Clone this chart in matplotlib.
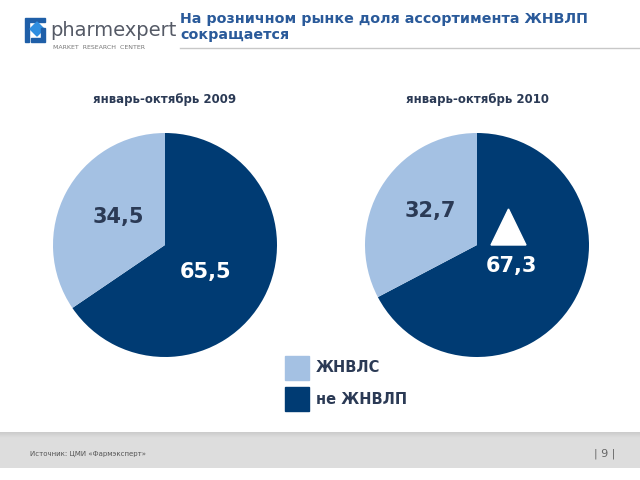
import numpy as np
import matplotlib.pyplot as plt
from matplotlib.patches import Rectangle, Polygon

# data
periods = ["январь-октябрь 2009", "январь-октябрь 2010"]
zhnvls = [34.5, 32.7]
ne_zhnvlp = [65.5, 67.3]
legend_labels = ["ЖНВЛС", "не ЖНВЛП"]

dark = "#003b73"
light = "#a4c1e3"
title_col = "#2a5a9a"
text_col = "#2b3a55"

plt.rcParams['font.family'] = ['DejaVu Sans']

fig = plt.figure(figsize=(6.4, 4.8), dpi=100)

# background axes in pixel coordinates
bg = fig.add_axes([0, 0, 1, 1])
bg.axis("off")

# footer band
grad = np.concatenate([np.linspace(0.80, 0.86, 6), np.full(30, 0.865)]).reshape(-1, 1)
bg.imshow(grad, cmap="gray", vmin=0, vmax=1, extent=[0, 640, 468, 432], aspect="auto", zorder=0)
bg.set_xlim(0, 640)
bg.set_ylim(480, 0)

# logo
bg.add_patch(Polygon([(25, 18), (45, 18), (45, 22), (29, 22), (29, 42), (25, 42)], color="#1f5fa8"))
bg.add_patch(Polygon([(37, 22), (44, 29), (37, 36), (30, 29)], color="#2f8ee0"))
bg.add_patch(Polygon([(45, 28), (45, 42), (31, 42), (31, 38), (41, 38), (41, 28)], color="#1f5fa8"))
bg.text(50, 30, "pharmexpert", fontsize=14, color="#555a66", va="center", ha="left")
bg.text(53, 47.5, "MARKET  RESEARCH  CENTER", fontsize=4.5, color="#777777", va="center", ha="left")

# title
bg.text(180, 27, "На розничном рынке доля ассортимента ЖНВЛП\nсокращается", fontsize=10.3,
        fontweight="bold", color=title_col, va="center", ha="left", linespacing=1.1)
bg.plot([180, 640], [48, 48], color="#c8c8c8", lw=1)

bg.text(30, 454, "Источник: ЦМИ «Фармэксперт»", fontsize=5, color="#555555", va="center", ha="left")
bg.text(605, 454, "| 9 |", fontsize=8, color="#666666", va="center", ha="center")

# pies
centers = [165, 477]
lbl_light = [(118, 217), (430, 211)]
lbl_dark = [(206, 272), (511, 266)]
r = 112
for i in range(2):
    ax = fig.add_axes([(centers[i] - r) / 640, (480 - 245 - r) / 480, 2 * r / 640, 2 * r / 480])
    ax.pie([ne_zhnvlp[i], zhnvls[i]], colors=[dark, light], startangle=90, counterclock=False,
           radius=1.0)
    ax.set_xlim(-1, 1)
    ax.set_ylim(-1, 1)
    ax.set_aspect("equal")
    bg.text(centers[i], 100, periods[i], fontsize=8.5, fontweight="bold", color=text_col,
            ha="center", va="center")

# overlay: values, growth triangle, legend
top = fig.add_axes([0, 0, 1, 1])
top.set_xlim(0, 640)
top.set_ylim(480, 0)
top.axis("off")
for i in range(2):
    top.text(lbl_light[i][0], lbl_light[i][1], f"{zhnvls[i]:.1f}".replace(".", ","), fontsize=15,
             fontweight="bold", color=text_col, ha="center", va="center")
    top.text(lbl_dark[i][0], lbl_dark[i][1], f"{ne_zhnvlp[i]:.1f}".replace(".", ","), fontsize=15,
             fontweight="bold", color="white", ha="center", va="center")
top.add_patch(Polygon([(491, 245), (526, 245), (508.5, 209)], color="white"))
for k, (lab, col) in enumerate(zip(legend_labels, [light, dark])):
    y0 = 356 + k * 31
    top.add_patch(Rectangle((285, y0), 24, 24, color=col))
    top.text(316, y0 + 12, lab, fontsize=10.5, fontweight="bold", color=text_col, va="center", ha="left")

fig.savefig("out.png", dpi=100)
